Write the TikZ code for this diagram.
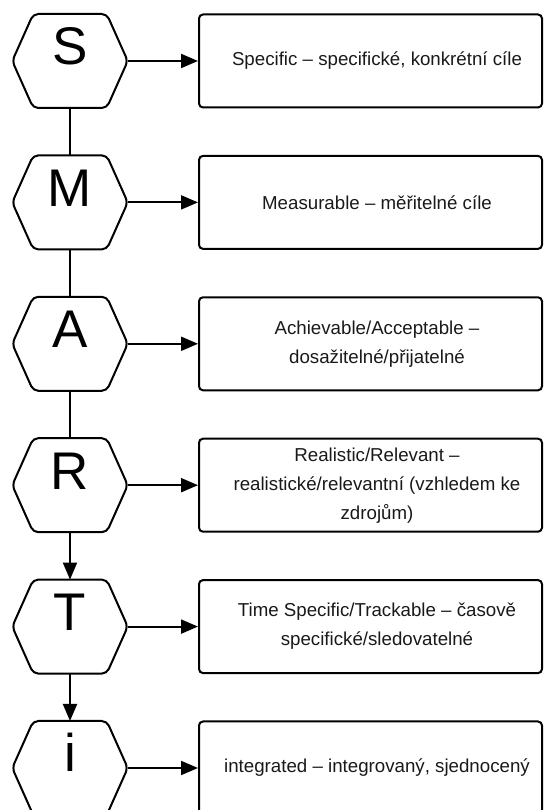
\documentclass[tikz,border=0pt]{standalone}
\usepackage{fontspec}
\setmainfont{Liberation Sans}
\usetikzlibrary{arrows.meta,calc}
\begin{document}
\begin{tikzpicture}[x=1pt,y=1pt,
  hexnode/.style={minimum width=115.5pt,minimum height=94pt,inner sep=0pt,outer sep=0pt},
  letter/.style={anchor=base,inner sep=0pt,font=\fontsize{53}{53}\selectfont},
  infobox/.style={draw,line width=2pt,rounded corners=4pt,minimum width=343pt,
    minimum height=93pt,inner sep=0pt},
  boxtext/.style={inner sep=0pt,align=center,font=\fontsize{18.7}{29}\selectfont,text=black!90},
  link/.style={line width=2pt},
  flow/.style={line width=2pt,-{Triangle[length=17pt,width=14pt]}},
  hexline/.style={line width=2pt,rounded corners=5pt}]
\useasboundingbox (0,0) rectangle (544,810);

% letter hexagons (outline drawn below)
\node[hexnode] (hs) at (70,749)   {};
\node[hexnode] (hm) at (70,607.6) {};
\node[hexnode] (ha) at (70,466.2) {};
\node[hexnode] (hr) at (70,324.8) {};
\node[hexnode] (ht) at (70,183.4) {};
\node[hexnode] (hi) at (70,42)    {};

\foreach \h in {hs,hm,ha,hr,ht,hi}
  \draw[hexline] (\h.north) -- ($(\h.north east)+(-21,0)$) -- (\h.east)
    -- ($(\h.south east)+(-21,0)$) -- ($(\h.south west)+(21,0)$)
    -- (\h.west) -- ($(\h.north west)+(21,0)$) -- cycle;

\node[letter] (ls) at (70,745)   {S};
\node[letter] (lm) at (70,603.6) {M};
\node[letter] (la) at (70,462.2) {A};
\node[letter] (lr) at (70,320.8) {R};
\node[letter] (lt) at (70,179.4) {T};
\node[letter] (li) at (70,38)    {i};

% description boxes
\node[infobox] (bs) at (370.5,749)   {};
\node[infobox] (bm) at (370.5,607.6) {};
\node[infobox] (ba) at (370.5,466.2) {};
\node[infobox] (br) at (370.5,324.8) {};
\node[infobox] (bt) at (370.5,183.4) {};
\node[infobox] (bi) at (370.5,42)    {};

% box texts, set a little right of the box centre
\node[boxtext] (ts) at ($(bs)+(6.5,0)$) {Specific – specifické, konkrétní cíle};
\node[boxtext] (tm) at ($(bm)+(6.5,0)$) {Measurable – měřitelné cíle};
\node[boxtext] (ta) at ($(ba)+(6.5,0)$) {Achievable/Acceptable –\\dosažitelné/přijatelné};
\node[boxtext] (tr) at ($(br)+(6.5,0)$) {Realistic/Relevant –\\realistické/relevantní (vzhledem ke\\zdrojům)};
\node[boxtext] (tt) at ($(bt)+(6.5,0)$) {Time Specific/Trackable – časově\\specifické/sledovatelné};
\node[boxtext] (ti) at ($(bi)+(6.5,0)$) {integrated – integrovaný, sjednocený};

% vertical chain
\draw[link] (hs) -- (hm);
\draw[link] (hm) -- (ha);
\draw[link] (ha) -- (hr);
\draw[flow] (hr) -- (ht);
\draw[flow] (ht) -- (hi);

% letter to description
\draw[flow] (hs) -- (bs);
\draw[flow] (hm) -- (bm);
\draw[flow] (ha) -- (ba);
\draw[flow] (hr) -- (br);
\draw[flow] (ht) -- (bt);
\draw[flow] (hi) -- (bi);
\end{tikzpicture}
\end{document}
